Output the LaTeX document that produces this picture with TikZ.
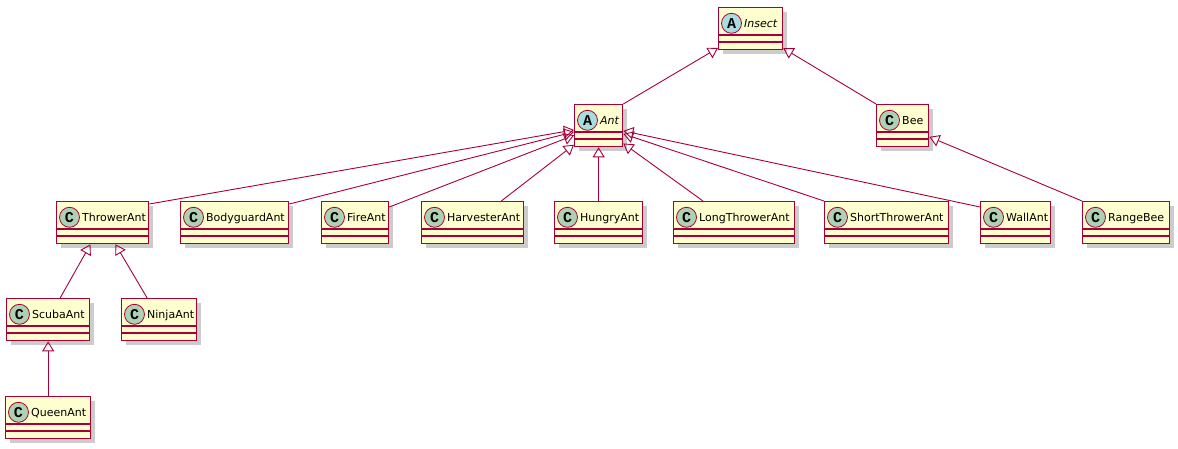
\documentclass[tikz,border=0pt]{standalone}
\usepackage{fontspec}
\setmainfont{DejaVu Sans}
\newfontfamily\iconfont{Liberation Mono}
\usepackage{tikz}
\usetikzlibrary{arrows.meta,shadows}

\definecolor{umlred}{HTML}{A80036}
\definecolor{umlfill}{HTML}{FEFECE}
\definecolor{umlgreen}{HTML}{ADD1B2}
\definecolor{umlcyan}{HTML}{A9DCDF}

\tikzset{
x=1pt, y=-1pt,
>={Triangle[open,length=10pt,width=12pt]},
classbox/.style={draw=umlred,fill=umlfill,line width=1.3pt,rectangle,anchor=north west,
  minimum height=42pt,inner sep=0pt,
  drop shadow={shadow xshift=4pt,shadow yshift=-4pt,fill=black,opacity=0.2}},
divider/.style={umlred,line width=1.3pt},
icon/.style={circle,draw=umlred,line width=0.8pt,minimum size=20pt,inner sep=0pt,
  font=\iconfont\bfseries\fontsize{15}{15}\selectfont},
iconC/.style={icon,fill=umlgreen},
iconA/.style={icon,fill=umlcyan},
classname/.style={inner sep=0pt,font=\fontsize{11}{13}\selectfont},
inherit/.style={umlred,line width=0.9pt}
}

% name, left, top, width, icon letter, label
\newcommand{\umlclass}[6]{%
  \node[classbox,minimum width=#4pt] (#1) at (#2,#3) {};
  \draw[divider] ([yshift=-28pt]#1.north west) -- ([yshift=-28pt]#1.north east)
                 ([yshift=-35pt]#1.north west) -- ([yshift=-35pt]#1.north east);
  \node[icon#5] (#1-icon) at ([xshift=13.5pt,yshift=-16.3pt]#1.north west) {#5};
  \node[classname,anchor=base west] (#1-name) at ([xshift=26pt,yshift=-20.7pt]#1.north west) {#6};
}

\begin{document}
\begin{tikzpicture}
\useasboundingbox (0,0) rectangle (1178,449);

\umlclass{Insect}{718}{7}{64}{A}{\itshape Insect}
\umlclass{Ant}{574}{104}{48}{A}{\itshape Ant}
\umlclass{Bee}{876}{104}{52}{C}{Bee}

\umlclass{ThrowerAnt}{56}{201}{92}{C}{ThrowerAnt}
\umlclass{BodyguardAnt}{180}{201}{108}{C}{BodyguardAnt}
\umlclass{FireAnt}{321}{201}{67}{C}{FireAnt}
\umlclass{HarvesterAnt}{421}{201}{102}{C}{HarvesterAnt}
\umlclass{HungryAnt}{554}{201}{88}{C}{HungryAnt}
\umlclass{LongThrowerAnt}{673}{201}{121}{C}{LongThrowerAnt}
\umlclass{ShortThrowerAnt}{824}{201}{124}{C}{ShortThrowerAnt}
\umlclass{WallAnt}{980}{201}{70}{C}{WallAnt}
\umlclass{RangeBee}{1082}{201}{87}{C}{RangeBee}

\umlclass{ScubaAnt}{6}{298}{83}{C}{ScubaAnt}
\umlclass{NinjaAnt}{121}{298}{75}{C}{NinjaAnt}
\umlclass{QueenAnt}{5}{396}{85}{C}{QueenAnt}

\path[inherit,->] (Ant.north east)                        edge (Insect)
                  (Bee.north west)                        edge (Insect)
                  (RangeBee.north west)                   edge (Bee)
                  ([yshift=-3pt]ThrowerAnt.north east)    edge (Ant)
                  ([yshift=-3pt]BodyguardAnt.north east)  edge (Ant)
                  ([yshift=-6pt]FireAnt.north east)       edge (Ant)
                  ([xshift=-23pt]HarvesterAnt.north east) edge (Ant)
                  (HungryAnt.north)                       edge (Ant)
                  ([xshift=30pt]LongThrowerAnt.north west) edge (Ant)
                  (ShortThrowerAnt.north west)            edge (Ant)
                  ([yshift=-6pt]WallAnt.north west)       edge (Ant)
                  ([xshift=12pt]ScubaAnt.north)           edge (ThrowerAnt)
                  ([xshift=-12pt]NinjaAnt.north)          edge (ThrowerAnt)
                  (QueenAnt.north)                        edge (ScubaAnt);
\end{tikzpicture}
\end{document}
